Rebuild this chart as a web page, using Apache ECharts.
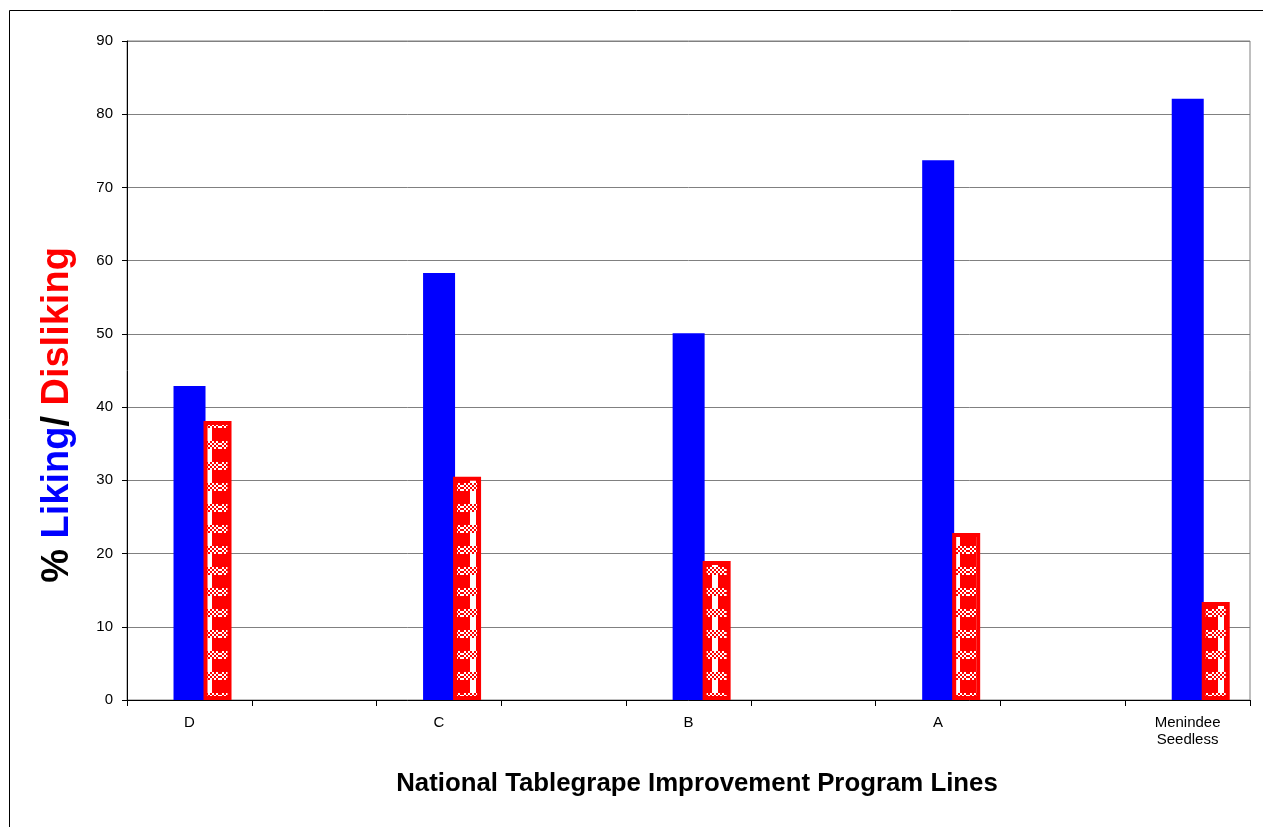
<!DOCTYPE html>
<html>
<head>
<meta charset="utf-8">
<script src="https://cdn.jsdelivr.net/npm/echarts@6/dist/echarts.min.js"></script>
<style>html,body{margin:0;padding:0;background:#fff}#c{width:1263px;height:827px}</style>
</head>
<body>
<div id="c"></div>
<script>
var categories = ['D', '', 'C', '', 'B', '', 'A', '', 'Menindee\nSeedless'];
var liking =    [42.9, '-', 58.3, '-', 50.1, '-', 73.7, '-', 82.1];
var disliking = [38.1, '-', 30.5, '-', 19.0, '-', 22.8, '-', 13.4];
var yTicks = { min: 0, max: 90, interval: 10 };

var FONT = 'Arial, "Liberation Sans", sans-serif';

// checkered red/white pattern for the "disliking" bars
function makePattern() {
  var c = document.createElement('canvas');
  c.width = 22; c.height = 21;
  var g = c.getContext('2d');
  g.fillStyle = '#ffffff'; g.fillRect(0, 0, 22, 21);
  g.fillStyle = '#ff0000';
  for (var y = 0; y < 8; y += 2) {
    for (var x = 0; x < 22; x += 2) {
      if (((x + y) / 2) % 2 === 0) g.fillRect(x, y, 2, 2);
    }
  }
  g.fillRect(0, 8, 8, 13);
  g.fillRect(14, 8, 8, 13);
  return c;
}

var chart = echarts.init(document.getElementById('c'), null, { renderer: 'canvas' });
chart.setOption({
  animation: false,
  backgroundColor: '#ffffff',
  grid: { left: 127, right: 13, top: 41, bottom: 127, show: true, borderColor: '#808080', borderWidth: 1, backgroundColor: 'transparent' },
  xAxis: {
    type: 'category',
    data: categories,
    axisLine: { lineStyle: { color: '#000000', width: 1 } },
    axisTick: { show: true, interval: 0, length: 6, lineStyle: { color: '#000000' } },
    axisLabel: { interval: 0, color: '#000000', fontSize: 15, fontFamily: FONT, margin: 14, lineHeight: 17 },
    splitLine: { show: false }
  },
  yAxis: {
    type: 'value',
    min: yTicks.min, max: yTicks.max, interval: yTicks.interval,
    axisLine: { show: true, lineStyle: { color: '#000000', width: 1 } },
    axisTick: { show: true, length: 5, lineStyle: { color: '#000000' } },
    axisLabel: { color: '#000000', fontSize: 15, fontFamily: FONT, margin: 14 },
    splitLine: { show: true, lineStyle: { color: '#808080', width: 1 } }
  },
  series: [
    { type: 'bar', name: 'spacer', data: categories.map(function(){ return '-'; }), barWidth: 28, barGap: '-6.25%', silent: true },
    { type: 'bar', name: 'Liking', data: liking, barWidth: 32, barGap: '-6.25%', itemStyle: { color: '#0000ff' } },
    { type: 'bar', name: 'Disliking', data: disliking, barWidth: 28, barGap: '-6.25%',
      itemStyle: { color: { image: makePattern(), repeat: 'repeat' }, borderColor: '#ff0000', borderWidth: 4 } }
  ],
  graphic: [
    { type: 'rect', x: 0, y: 0, shape: { x: 9.5, y: 10.5, width: 1400, height: 1000 }, style: { fill: null, stroke: '#000000', lineWidth: 1 }, silent: true, z: 100 },
    { type: 'text', x: 58, y: 415, rotation: Math.PI / 2,
      style: {
        text: '{k|% }{b|Liking}{k|/ }{r|Disliking}',
        align: 'center', verticalAlign: 'middle',
        rich: {
          k: { fill: '#000000', fontSize: 38, fontWeight: 'bold', fontFamily: FONT },
          b: { fill: '#0000ff', fontSize: 38, fontWeight: 'bold', fontFamily: FONT },
          r: { fill: '#ff0000', fontSize: 38, fontWeight: 'bold', fontFamily: FONT }
        }
      } },
    { type: 'text', x: 697, y: 784,
      style: { text: 'National Tablegrape Improvement Program Lines', fill: '#000000', fontSize: 25.8, fontWeight: 'bold', fontFamily: FONT, align: 'center', verticalAlign: 'middle' } }
  ]
});
</script>
</body>
</html>
